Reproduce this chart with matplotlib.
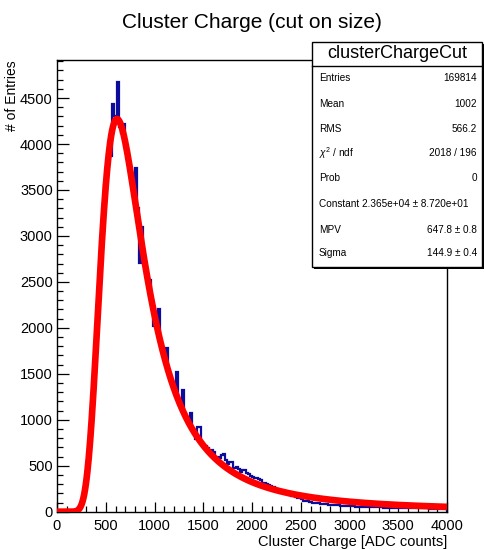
import numpy as np
import matplotlib
matplotlib.use("Agg")
import matplotlib.pyplot as plt
from matplotlib.patches import Rectangle
from matplotlib.lines import Line2D

plt.rcParams['font.family'] = ['Liberation Sans', 'DejaVu Sans']
plt.rcParams['mathtext.fontset'] = 'custom'
plt.rcParams['mathtext.rm'] = 'Liberation Sans'
plt.rcParams['mathtext.it'] = 'Liberation Sans:italic'

# ---- data ----
title = "Cluster Charge (cut on size)"
x_label = "Cluster Charge [ADC counts]"
y_label = "# of Entries"
hist_name = "clusterChargeCut"
bin_lo, bin_hi, n_bins = 0, 4000, 200
counts = [
    0, 0, 0, 0, 0, 0, 0, 2, 4, 8,
    15, 34, 74, 150, 260, 420, 650, 910, 1250, 1600,
    1990, 2370, 2750, 3100, 3550, 3670, 3880, 3870, 4440, 4300,
    4240, 4680, 4180, 4120, 4220, 3960, 3840, 3720, 3590, 3460,
    3740, 3300, 2710, 3100, 2790, 2650, 2530, 2520, 2280, 2020,
    2080, 2000, 2210, 1810, 1730, 1650, 1780, 1500, 1440, 1370,
    1310, 1520, 1200, 1160, 1320, 1060, 1020, 980, 1070, 900,
    860, 790, 925, 920, 760, 720, 720, 690, 650, 670,
    650, 600, 590, 580, 620, 630, 560, 520, 540, 545,
    480, 470, 490, 460, 430, 455, 450, 420, 410, 390,
    380, 370, 365, 360, 340, 310, 315, 300, 290, 275,
    270, 268, 250, 235, 225, 215, 205, 198, 190, 180,
    175, 168, 160, 152, 145, 140, 120, 112, 115, 110,
    105, 100, 96, 94, 90, 88, 85, 82, 80, 78,
    75, 73, 72, 70, 68, 66, 65, 64, 62, 60,
    60, 58, 57, 56, 55, 55, 54, 52, 50, 51,
    50, 49, 48, 48, 47, 46, 46, 45, 44, 44,
    43, 43, 42, 42, 41, 41, 40, 40, 40, 39,
    39, 38, 38, 37, 37, 37, 36, 36, 35, 35,
    35, 34, 34, 34, 33, 33, 33, 32, 32, 32,
]
fit_const, fit_mpv, fit_sigma = 2.365e4, 647.8, 144.9
stats_labels = ["Entries", "Mean", "RMS", r"$\chi^2$ / ndf", "Prob",
                "Constant", "MPV", "Sigma"]
stats_values = ["169814", "1002", "566.2", "2018 / 196", "0",
                "2.365e+04 \u00b1 8.720e+01", "647.8 \u00b1 0.8", "144.9 \u00b1 0.4"]


def denlan(lam):
    t = np.linspace(1e-9, 45, 30001)
    out = []
    for l in np.atleast_1d(lam):
        if l < -3.45:
            out.append(0.0)
            continue
        f = np.exp(-t * np.log(t) - l * t) * np.sin(np.pi * t)
        out.append(np.trapezoid(f, t) / np.pi)
    return np.array(out)


W, H = 485, 550
fig = plt.figure(figsize=(W / 100, H / 100), dpi=100)
L, R, T, B = 57, 447, 60, 511.7
ax = fig.add_axes([L / W, 1 - B / H, (R - L) / W, (B - T) / H])

edges = np.linspace(bin_lo, bin_hi, n_bins + 1)
ax.stairs(counts, edges, color='#0b0b9c', lw=1.6, zorder=2)

xf = np.linspace(bin_lo, bin_hi, 801)
yf = fit_const * denlan((xf - fit_mpv) / fit_sigma)
ax.plot(xf, yf, color='#ff0000', lw=4.8, zorder=3, solid_capstyle='butt')

ax.set_xlim(bin_lo, bin_hi)
ax.set_ylim(0, 1.05 * max(counts))
ax.set_xticks(np.arange(0, 4001, 500))
ax.set_xticks(np.arange(0, 4001, 100), minor=True)
ax.set_yticks(np.arange(0, 4501, 500))
ax.set_yticks(np.arange(0, 4901, 100), minor=True)
ax.tick_params(direction='in', which='both', top=False, right=False,
               labelsize=10.5, width=0.9, colors='black')
ax.tick_params(axis='y', which='major', length=8.5, pad=3)
ax.tick_params(axis='y', which='minor', length=4.3)
ax.tick_params(axis='x', which='major', length=7.5, pad=5)
ax.tick_params(axis='x', which='minor', length=4.5)
for s in ax.spines.values():
    s.set_linewidth(1.0)

fig.text(252 / W, 1 - 22 / H, title, ha='center', va='center', fontsize=15)
fig.text(R / W, 1 - 542 / H, x_label, ha='right', va='center', fontsize=10.5)
fig.text(12 / W, 1 - T / H, y_label, ha='center', va='top', rotation=90,
         fontsize=10)

# stats box
bx0, bx1, by0, by1 = 312, 482, 42, 267
fig.patches.append(Rectangle((bx0 / W + 2 / W, 1 - (by1 + 2) / H), (bx1 - bx0) / W,
                             (by1 - by0) / H, transform=fig.transFigure,
                             facecolor='black', edgecolor='none', zorder=10))
fig.patches.append(Rectangle((bx0 / W, 1 - by1 / H), (bx1 - bx0) / W, (by1 - by0) / H,
                             transform=fig.transFigure, facecolor='white',
                             edgecolor='black', lw=1.0, zorder=11))
fig.lines.append(Line2D([bx0 / W, bx1 / W], [1 - 66 / H, 1 - 66 / H],
                        transform=fig.transFigure, color='black', lw=1.0, zorder=12))
fig.text((bx0 + bx1) / 2 / W, 1 - 54 / H, hist_name, ha='center', va='center',
         fontsize=13, zorder=13)
row_y = [78, 104, 129, 153, 178, 204, 230, 253]
for lab, val, yy in zip(stats_labels, stats_values, row_y):
    if lab == "Constant":
        fig.text(319 / W, 1 - yy / H, lab + " " + val, ha='left', va='center',
                 fontsize=7.2, zorder=13)
    else:
        fig.text(319 / W, 1 - yy / H, lab, ha='left', va='center', fontsize=7.2, zorder=13)
        fig.text(477 / W, 1 - yy / H, val, ha='right', va='center', fontsize=7.2, zorder=13)

fig.savefig('out.png', dpi=100)
